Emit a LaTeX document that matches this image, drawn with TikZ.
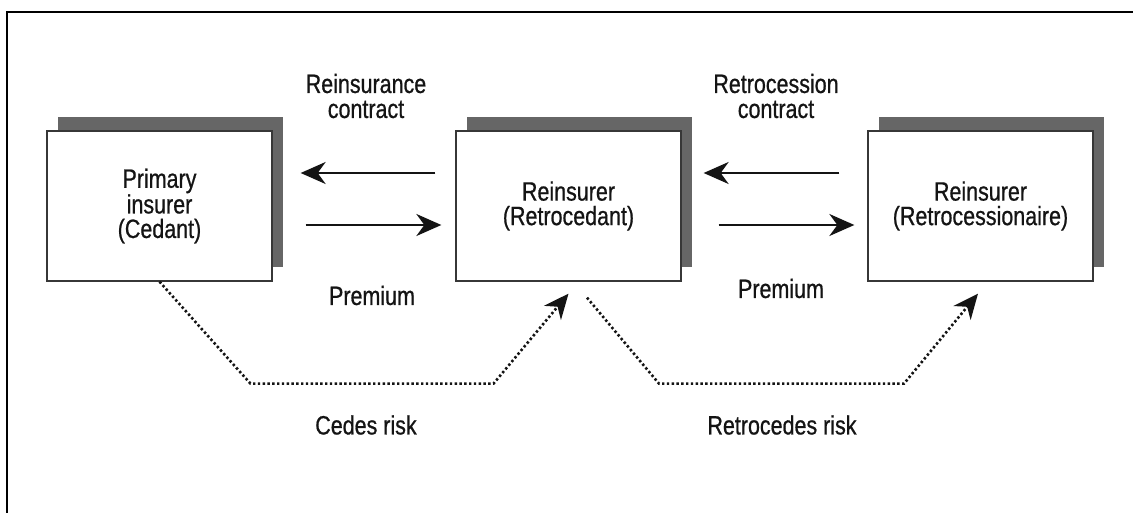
\documentclass[tikz,border=0pt]{standalone}
\usepackage{fontspec}
\setmainfont{Liberation Sans}[FakeStretch=0.81,FakeBold=0.7]
\usetikzlibrary{arrows.meta,shadows,calc}
\definecolor{shadowgray}{RGB}{102,102,102}
\definecolor{ink}{RGB}{20,20,20}
\begin{document}
\begin{tikzpicture}[x=1pt,y=-1pt,
  every node/.style={font=\fontsize{26.5}{24.5}\selectfont, text=ink},
  party/.style={draw=ink!85, line width=1.3pt, fill=white,
    minimum width=225pt, minimum height=150pt, inner sep=0pt, align=center,
    drop shadow={shadow xshift=10.5pt, shadow yshift=13.5pt, fill=shadowgray, opacity=1}},
  tip/.style={-{Stealth[length=25pt,width=22pt,inset=8pt]}},
  flow/.style={line width=2.3pt, draw=ink, tip},
  risk/.style={line width=2.6pt, draw=ink, dash pattern=on 2.4pt off 2.4pt, tip},
  lbl/.style={align=center, inner sep=0pt, font=\fontsize{26.5}{25}\selectfont}
]
\useasboundingbox (0,0) rectangle (1133,513);
\fill[white] (0,0) rectangle (1133,513);
% open frame
\draw[line width=2pt, draw=black, line join=miter] (7,513) -- (7,12) -- (1133,12);

% parties
\node[party] (box1) at (159.5,206) {Primary\\insurer\\(Cedant)};
\node[party] (box2) at (568.5,206) {Reinsurer\\(Retrocedant)};
\node[party] (box3) at (980.5,206) {Reinsurer\\(Retrocessionaire)};

% contract / premium flows
\draw[flow] ($(box2.west)+(-20,-33)$) -- ($(box1.east)+(28,-33)$);
\draw[flow] ($(box1.east)+(33,19)$) -- ($(box2.west)+(-14,19)$);
\draw[flow] ($(box3.west)+(-28,-33)$) -- ($(box2.east)+(22,-33)$);
\draw[flow] ($(box2.east)+(37,19)$) -- ($(box3.west)+(-13,19)$);

% risk flows
\draw[risk] (box1.south) -- ($(box1.south)+(91,102)$) -- ($(box2.south)+(-75,102)$) -- ($(box2.south)+(0,12)$);
\draw[risk] ($(box2.south)+(18.5,16)$) -- ($(box2.south)+(90.5,102)$) -- ($(box3.south)+(-76.5,102)$) -- ($(box3.south)+(-2.5,12)$);

% labels
\node[lbl] (lab1) at (366,96) {Reinsurance\\contract};
\node[lbl] (lab2) at (776,96) {Retrocession\\contract};
\node[lbl] (prem1) at (372,295.5) {Premium};
\node[lbl] (prem2) at (781,288.5) {Premium};
\node[lbl] (cedes) at (366,425) {Cedes risk};
\node[lbl] (retro) at (782,425) {Retrocedes risk};
\end{tikzpicture}
\end{document}
